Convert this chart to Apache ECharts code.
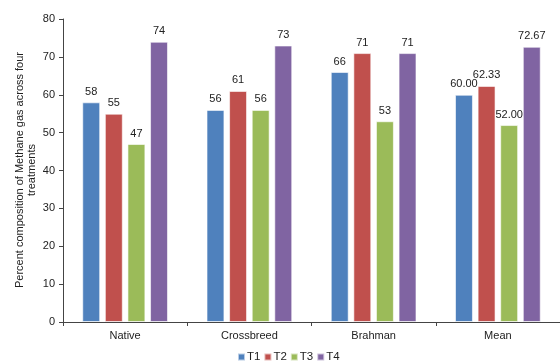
<!DOCTYPE html>
<html>
<head>
<meta charset="utf-8">
<script src="https://cdn.jsdelivr.net/npm/echarts@6/dist/echarts.min.js"></script>
<style>
  html, body { margin: 0; padding: 0; background: #fff; }
  #chart { width: 560px; height: 363px; }
</style>
</head>
<body>
<div id="chart"></div>
<script>
// Breed groups along the x axis
const categories = ['Native', 'Crossbreed', 'Brahman', 'Mean'];
// Methane composition (%) per treatment
const t1 = [58, 56, 66, 60.00];
const t2 = [55, 61, 71, 62.33];
const t3 = [47, 56, 53, 52.00];
const t4 = [74, 73, 71, 72.67];
const seriesNames = ['T1', 'T2', 'T3', 'T4'];
const seriesData = [t1, t2, t3, t4];
// Labels: breed rows show whole numbers, the mean row shows two decimals
const labelDigits = [0, 0, 0, 2];
const yTicks = { min: 0, max: 80, interval: 10 };
const yTitle = ['Percent composition of Methane gas across four', 'treatments'];

const colors = ['#4F81BD', '#C0504D', '#9BBB59', '#8064A2'];
const font = '"Liberation Sans", Arial, sans-serif';

const chart = echarts.init(document.getElementById('chart'), null, { renderer: 'canvas' });
chart.setOption({
  animation: false,
  textStyle: { fontFamily: font },
  grid: { left: 63, right: 0, top: 19, bottom: 41 },
  // Two-line rotated axis title
  graphic: yTitle.map((line, i) => ({
    type: 'text',
    x: 20 + i * 12,
    y: 170,
    rotation: Math.PI / 2,
    style: {
      text: line,
      fill: '#222',
      font: '11px ' + font,
      align: 'center',
      verticalAlign: 'middle'
    }
  })),
  legend: {
    top: 346,
    left: 232,
    itemWidth: 7,
    itemHeight: 7,
    itemGap: 3,
    icon: 'rect',
    textStyle: { fontSize: 11.5, color: '#222', fontFamily: font, padding: [0, 0, 0, -3] },
    data: seriesNames
  },
  xAxis: {
    type: 'category',
    data: categories,
    axisLine: { lineStyle: { color: '#444', width: 1 } },
    axisTick: { show: true, length: 4, lineStyle: { color: '#444' } },
    axisLabel: { fontSize: 11, color: '#222', margin: 8, fontFamily: font }
  },
  yAxis: {
    type: 'value',
    min: yTicks.min,
    max: yTicks.max,
    interval: yTicks.interval,
    splitLine: { show: false },
    axisLine: { show: true, lineStyle: { color: '#444', width: 1 } },
    axisTick: { show: true, length: 4, lineStyle: { color: '#444' } },
    axisLabel: { fontSize: 11, color: '#222', margin: 8, fontFamily: font }
  },
  series: seriesNames.map((name, i) => ({
    name: name,
    type: 'bar',
    data: seriesData[i],
    barGap: '26%',
    barCategoryGap: '31%',
    itemStyle: { color: colors[i], borderColor: 'rgba(255,255,255,0.6)', borderWidth: 1 },
    label: {
      show: true,
      position: 'top',
      distance: 5,
      fontSize: 11,
      color: '#222',
      fontFamily: font,
      formatter: p => p.value.toFixed(labelDigits[p.dataIndex])
    }
  }))
});
</script>
</body>
</html>
